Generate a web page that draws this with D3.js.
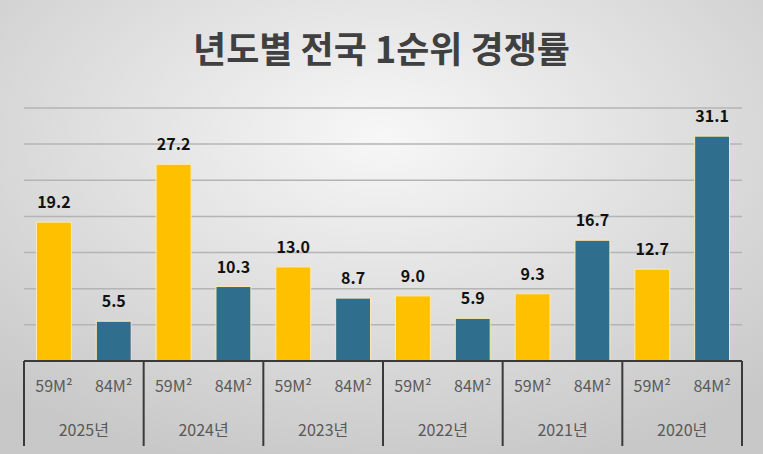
<!DOCTYPE html>
<html><head><meta charset="utf-8">
<script src="https://cdn.jsdelivr.net/npm/d3@7"></script>
<style>body{margin:0}svg{display:block}</style>
</head><body>
<script>
// data
const years = ['2025년', '2024년', '2023년', '2022년', '2021년', '2020년'];
const sizes = ['59M²', '84M²'];
const rate59 = [19.2, 27.2, 13.0, 9.0, 9.3, 12.7];
const rate84 = [5.5, 10.3, 8.7, 5.9, 16.7, 31.1];
const gridTicks = [5, 10, 15, 20, 25, 30, 35];

const W = 763, H = 454;
const left = 24, right = 742, base = 361, catBottom = 446;
const colors = ['#FFC000', '#2F6F8D'];
const font = "'Noto Sans CJK KR', 'Noto Sans', sans-serif";

const svg = d3.select('body').append('svg').attr('width', W).attr('height', H);

const defs = svg.append('defs');
const grad = defs.append('radialGradient').attr('id', 'bg')
  .attr('cx', '50%').attr('cy', '30%').attr('r', '75%');
grad.append('stop').attr('offset', '0%').attr('stop-color', '#f7f7f7');
grad.append('stop').attr('offset', '100%').attr('stop-color', '#c8c8c8');
svg.append('rect').attr('width', W).attr('height', H).attr('fill', 'url(#bg)');

svg.append('text').attr('x', W / 2).attr('y', 63).attr('text-anchor', 'middle')
  .attr('font-family', font).attr('font-weight', 700).attr('font-size', 36)
  .attr('fill', '#404040').text('년도별 전국 1순위 경쟁률');

const y = d3.scaleLinear().domain([0, 35]).range([base, base - 35 * 7.23]);
const x0 = d3.scaleBand().domain(years).range([left, right]);
const x1 = d3.scaleBand().domain(sizes).range([0, x0.bandwidth()]).paddingInner(0.4167).paddingOuter(0.2083);

svg.append('g').selectAll('line').data(gridTicks).join('line')
  .attr('x1', left).attr('x2', right)
  .attr('y1', d => y(d)).attr('y2', d => y(d))
  .attr('stroke', '#b4b4b4').attr('stroke-width', 1.5);

const rows = years.map((yr, i) => [
  { yr, s: sizes[0], v: rate59[i], c: colors[0] },
  { yr, s: sizes[1], v: rate84[i], c: colors[1] }
]).flat();

svg.append('g').selectAll('rect').data(rows).join('rect')
  .attr('x', d => x0(d.yr) + x1(d.s)).attr('width', x1.bandwidth())
  .attr('y', d => y(d.v)).attr('height', d => base - y(d.v))
  .attr('fill', d => d.c).attr('stroke', '#fbe9b0').attr('stroke-width', 1);

svg.append('g').selectAll('text').data(rows).join('text')
  .attr('x', d => x0(d.yr) + x1(d.s) + x1.bandwidth() / 2)
  .attr('y', d => y(d.v) - 14).attr('text-anchor', 'middle')
  .attr('font-family', font).attr('font-weight', 700).attr('font-size', 16)
  .attr('fill', '#111').text(d => d.v.toFixed(1));

// category axis
const ax = svg.append('g').attr('stroke', '#3a3a3a');
ax.append('line').attr('x1', left).attr('x2', right).attr('y1', base).attr('y2', base).attr('stroke-width', 2);
ax.selectAll('line.sep').data(years.concat(['end'])).join('line').attr('class', 'sep')
  .attr('x1', (d, i) => i < years.length ? x0(d) : right)
  .attr('x2', (d, i) => i < years.length ? x0(d) : right)
  .attr('y1', base).attr('y2', catBottom).attr('stroke-width', 2);

svg.append('g').selectAll('text').data(rows).join('text')
  .attr('x', d => x0(d.yr) + x1(d.s) + x1.bandwidth() / 2)
  .attr('y', 392).attr('text-anchor', 'middle')
  .attr('font-family', font).attr('font-size', 16).attr('fill', '#595959').text(d => d.s);

svg.append('g').selectAll('text').data(years).join('text')
  .attr('x', d => x0(d) + x0.bandwidth() / 2).attr('y', 436).attr('text-anchor', 'middle')
  .attr('font-family', font).attr('font-size', 16).attr('fill', '#595959').text(d => d);
</script>
</body></html>
